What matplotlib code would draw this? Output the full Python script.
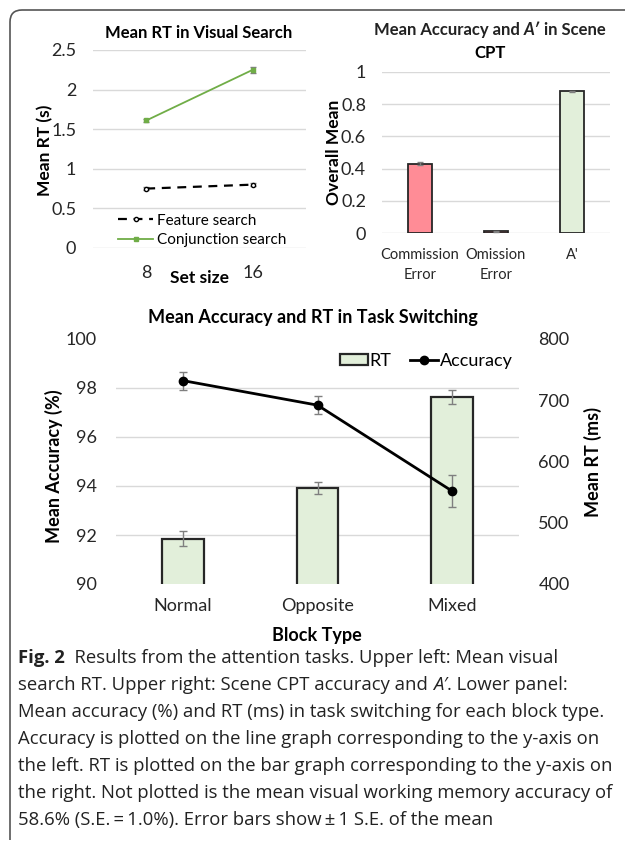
import numpy as np
import matplotlib
matplotlib.use("Agg")
import matplotlib.pyplot as plt
from matplotlib.path import Path
from matplotlib.patches import PathPatch, Patch
from matplotlib.lines import Line2D
from matplotlib.transforms import IdentityTransform
from matplotlib.ticker import FixedLocator

plt.rcParams['font.family'] = ['Lato', 'DejaVu Sans']

# ---- data ----
set_sizes = ['8', '16']
feature_rt = [0.75, 0.80]
feature_se = [0.02, 0.02]
conj_rt = [1.61, 2.25]
conj_se = [0.025, 0.04]

cpt_labels = ['Commission\nError', 'Omission\nError', "A'"]
cpt_vals = [0.43, 0.012, 0.88]
cpt_se = [0.01, 0.003, 0.002]
cpt_colors = ['#FF8C96', '#FF8C96', '#E2EFDA']

blocks = ['Normal', 'Opposite', 'Mixed']
acc = [98.3, 97.3, 93.8]
acc_se = [0.37, 0.37, 0.64]
rt = [474, 557, 705]
rt_se = [12, 10, 11]

caption = [
    [("Fig. 2", 'bold', 'normal'), ("  Results from the attention tasks. Upper left: Mean visual", 'normal', 'normal')],
    [("search RT. Upper right: Scene CPT accuracy and ", 'normal', 'normal'), ("A\u2032", 'normal', 'italic'),
     (". Lower panel:", 'normal', 'normal')],
    [("Mean accuracy (%) and RT (ms) in task switching for each block type.", 'normal', 'normal')],
    [("Accuracy is plotted on the line graph corresponding to the y-axis on", 'normal', 'normal')],
    [("the left. RT is plotted on the bar graph corresponding to the y-axis on", 'normal', 'normal')],
    [("the right. Not plotted is the mean visual working memory accuracy of", 'normal', 'normal')],
    [("58.6% (S.E.\u2009=\u20091.0%). Error bars show\u2009\u00b1\u20091 S.E. of the mean", 'normal', 'normal')],
]

W, H = 627, 843
fig = plt.figure(figsize=(W / 100, H / 100), dpi=100)
grid_c = '#D9D9D9'
err_c = '#7F7F7F'


def px_axes(l, t, r, b):
    return fig.add_axes([l / W, 1 - b / H, (r - l) / W, (b - t) / H])


def style(ax):
    for s in ax.spines.values():
        s.set_visible(False)
    ax.tick_params(length=0, labelsize=13, colors='#262626')
    ax.set_axisbelow(True)


def runs(x, y, parts, size, ha='left', color='#222222', family=None):
    # draw a line of text pieces one after the other (pixel coords, y from top)
    r = fig.canvas.get_renderer()
    objs, cx = [], x
    for txt, wt, st in parts:
        t = fig.text(cx, H - y, txt, transform=IdentityTransform(), fontsize=size,
                     fontweight=wt, fontstyle=st, va='center', ha='left', color=color)
        if family:
            t.set_family(family)
        cx += t.get_window_extent(r).width
        objs.append(t)
    if ha == 'center':
        shift = (cx - x) / 2
        for t in objs:
            px, py = t.get_position()
            t.set_position((px - shift, py))


# ---- upper left: visual search ----
ax1 = px_axes(93, 50, 306, 248)
style(ax1)
xs = np.arange(len(set_sizes))
ax1.errorbar(xs, feature_rt, yerr=feature_se, color='black', ls=(0, (4, 3)), lw=1.6,
             marker='o', ms=3, mfc='white', mec='black', ecolor=err_c, elinewidth=1,
             capsize=2.5)
ax1.errorbar(xs, conj_rt, yerr=conj_se, color='#70AD47', lw=1.3, marker='s', ms=3,
             ecolor=err_c, elinewidth=1, capsize=2.5)
ax1.set_xlim(-0.5, 1.5)
ax1.set_ylim(0, 2.5)
ax1.set_yticks(np.arange(0, 2.51, 0.5))
ax1.set_yticklabels(['0', '0.5', '1', '1.5', '2', '2.5'])
ax1.set_xticks(xs)
ax1.set_xticklabels(set_sizes)
ax1.tick_params(axis='x', pad=12)
ax1.tick_params(axis='y', pad=12)
ax1.grid(axis='y', color=grid_c, lw=1)
h1 = [Line2D([], [], color='black', ls=(0, (4, 3)), lw=1.6, marker='o', ms=3,
             mfc='white', mec='black'),
      Line2D([], [], color='#70AD47', lw=1.3, marker='s', ms=3)]
ax1.legend(h1, ['Feature search', 'Conjunction search'], loc='lower left',
           bbox_to_anchor=((118 - 93) / 213, 0.005), frameon=False, fontsize=11,
           handlelength=2.3, handletextpad=0.25, labelspacing=0.35,
           borderaxespad=0, borderpad=0)
fig.text(199 / W, 1 - 33 / H, 'Mean RT in Visual Search', ha='center', va='center',
         fontsize=12, fontweight='bold')
fig.text(45 / W, 1 - 150 / H, 'Mean RT (s)', ha='center', va='center', rotation=90,
         fontsize=12.5, fontweight='bold')
fig.text(200 / W, 1 - 278 / H, 'Set size', ha='center', va='center', fontsize=12.5,
         fontweight='bold')

# ---- upper right: scene CPT ----
ax2 = px_axes(382, 72, 610, 233)
style(ax2)
xc = np.arange(len(cpt_labels))
ax2.bar(xc, cpt_vals, width=0.32, color=cpt_colors, edgecolor='#262626', lw=1.3,
        yerr=cpt_se, error_kw=dict(ecolor=err_c, elinewidth=1, capsize=2.5))
ax2.set_xlim(-0.5, 2.5)
ax2.set_ylim(0, 1)
ax2.set_yticks(np.arange(0, 1.01, 0.2))
ax2.set_yticklabels(['0', '0.2', '0.4', '0.6', '0.8', '1'])
ax2.set_xticks(xc)
ax2.set_xticklabels(cpt_labels, fontsize=10.5, linespacing=1.55)
ax2.tick_params(axis='x', pad=11)
ax2.tick_params(axis='y', pad=11.5)
ax2.grid(axis='y', color=grid_c, lw=1)
runs(490, 30, [("Mean Accuracy and ", 'bold', 'normal'), ("A\u2032", 'bold', 'italic'),
               (" in Scene", 'bold', 'normal')], 12, ha='center')
fig.text(490 / W, 1 - 53 / H, 'CPT', ha='center', va='center', fontsize=12,
         fontweight='bold')
fig.text(334 / W, 1 - 152 / H, 'Overall Mean', ha='center', va='center', rotation=90,
         fontsize=12.5, fontweight='bold')

# ---- lower: task switching ----
L, T, R, B = 116, 339, 519, 584
axb = px_axes(L, T, R, B)
style(axb)
xb = np.arange(len(blocks))
axb.bar(xb, rt, width=0.31, color='#E2EFDA', edgecolor='#262626', lw=1.6,
        yerr=rt_se, error_kw=dict(ecolor=err_c, elinewidth=1, capsize=3))
axb.set_xlim(-0.5, 2.5)
axb.set_ylim(400, 800)
axb.set_xticks(xb)
axb.set_xticklabels(blocks)
axb.tick_params(axis='x', pad=10)

axa = axb.twinx()
style(axa)
axa.errorbar(xb, acc, yerr=acc_se, color='black', lw=2, marker='o', ms=6,
             ecolor=err_c, elinewidth=1, capsize=3)
axa.set_ylim(90, 100)
axa.set_yticks(np.arange(90, 100.1, 2))
axa.yaxis.tick_left()
axa.tick_params(axis='y', pad=14)
axa.patch.set_visible(False)

# bar axis: labels on the right, grid lines follow the accuracy ticks
axb.yaxis.tick_right()
axb.set_yticks(np.arange(400, 801, 100))
axb.yaxis.set_minor_locator(FixedLocator(np.linspace(400, 800, 6)))
axb.tick_params(axis='y', which='both', length=0, pad=14)
axb.grid(axis='y', which='minor', color=grid_c, lw=1)
axb.grid(axis='y', which='major', visible=False)

h = [Patch(facecolor='#E2EFDA', edgecolor='#262626', lw=1.6),
     Line2D([], [], color='black', lw=2, marker='o', ms=6)]
axa.legend(h, ['RT', 'Accuracy'], loc='center right',
           bbox_to_anchor=((513 - L) / (R - L), (B - 361) / (B - T)), ncol=2,
           frameon=False, fontsize=13, handlelength=1.55, handleheight=0.55,
           handletextpad=0.1, columnspacing=1.05, borderaxespad=0, borderpad=0)

fig.text(313 / W, 1 - 318 / H, 'Mean Accuracy and RT in Task Switching', ha='center',
         va='center', fontsize=13, fontweight='bold')
fig.text(54 / W, 1 - 466 / H, 'Mean Accuracy (%)', ha='center', va='center', rotation=90,
         fontsize=13, fontweight='bold')
fig.text(593 / W, 1 - 462 / H, 'Mean RT (ms)', ha='center', va='center', rotation=90,
         fontsize=13, fontweight='bold')
fig.text(317 / W, 1 - 636 / H, 'Block Type', ha='center', va='center', fontsize=13,
         fontweight='bold')

# ---- caption ----
for i, line in enumerate(caption):
    runs(18, 658 + 27 * i, line, 13.3, family=['Open Sans', 'DejaVu Sans'])

# ---- frame (rounded top-left corner) ----
rad = 12
verts = [(10, H - 840), (10, H - 10 - rad), (10, H - 10), (10 + rad, H - 10), (625, H - 10)]
codes = [Path.MOVETO, Path.LINETO, Path.CURVE3, Path.CURVE3, Path.LINETO]
fig.add_artist(PathPatch(Path(verts, codes), transform=IdentityTransform(), fill=False,
                         edgecolor='#555555', lw=1.2))

fig.savefig('out.png', dpi=100)
